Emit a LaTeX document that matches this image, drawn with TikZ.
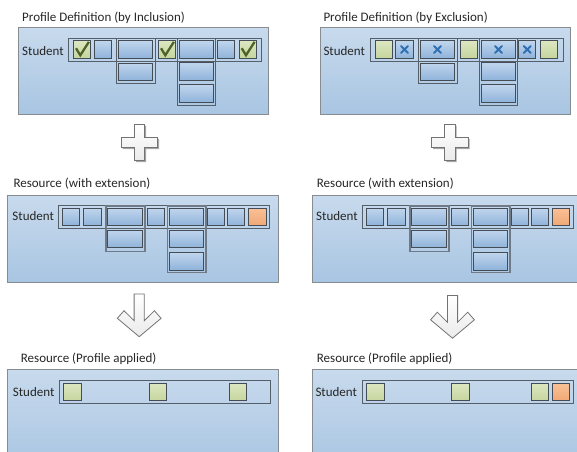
\documentclass[tikz,border=0pt]{standalone}
\usepackage{fontspec}
\setmainfont{Carlito}
\definecolor{paneltop}{RGB}{200,218,237}
\definecolor{panelbot}{RGB}{168,197,226}
\definecolor{panelline}{RGB}{135,140,145}
\definecolor{celltop}{RGB}{192,213,237}
\definecolor{cellbot}{RGB}{143,179,218}
\definecolor{celline}{RGB}{68,76,86}
\definecolor{rowline}{RGB}{85,95,105}
\definecolor{ylwtop}{RGB}{220,230,192}
\definecolor{ylwbot}{RGB}{197,213,158}
\definecolor{orgtop}{RGB}{249,192,150}
\definecolor{orgbot}{RGB}{240,168,118}
\definecolor{chkcol}{RGB}{79,98,40}
\definecolor{xcol}{RGB}{46,112,180}
\definecolor{grpgray}{RGB}{112,122,134}
\tikzset{
  panel/.style={draw=panelline, line width=0.8pt, top color=paneltop, bottom color=panelbot, anchor=north west, inner sep=0},
  rowbox/.style={draw=rowline, line width=0.8pt, anchor=north west, inner sep=0},
  grpthin/.style={draw=rowline, line width=0.8pt, anchor=north west, inner sep=0},
  grpthick/.style={draw=grpgray, line width=1.6pt, anchor=north west, inner sep=0},
  cellbase/.style={draw=celline, line width=0.9pt, minimum width=17.4pt, minimum height=17.4pt, inner sep=0, anchor=center},
  bl/.style={cellbase, top color=celltop, bottom color=cellbot},
  wide/.style={bl, minimum width=34.4pt},
  yl/.style={cellbase, top color=ylwtop, bottom color=ylwbot},
  og/.style={cellbase, top color=orgtop, bottom color=orgbot},
  lbl/.style={anchor=base west, inner sep=0, text=black!85},
  chk/.style={draw=chkcol, line width=2.3pt, line join=miter},
  xm/.style={draw=xcol, line width=2pt, line cap=round},
  shape3d/.style={draw=black!55, line width=0.8pt, top color=white, bottom color=black!8},
  shadow3d/.style={fill=black!35},
}
\newcommand\chkmark[1]{\draw[chk] ([shift={(-6,-1.2)}]#1.center) -- ++(4.3,7) -- ++(8.6,-13.4);}
\newcommand\xmark[1]{\draw[xm] ([shift={(-3.4,-3.4)}]#1.center) -- ++(6.8,6.8) ([shift={(3.4,-3.4)}]#1.center) -- ++(-6.8,6.8);}
\begin{document}
\begin{tikzpicture}[x=1pt,y=-1pt,font=\fontsize{13}{15}\selectfont]
\useasboundingbox (0,0) rectangle (577,451);
% ================= TOP LEFT =================
\node[panel, minimum width=250.3pt, minimum height=87pt] (pA) at (17.7,27.3) {};
\node[lbl] (tA) at (22,21.7) {Profile Definition (by Inclusion)};
\node[lbl] (sA) at (22,55) {Student};
\node[rowbox, minimum width=192.2pt, minimum height=23pt] (rA) at (68.3,37.7) {};
\node[grpthin, minimum width=38.7pt, minimum height=45.6pt] (gA1) at (116,37.7) {};
\node[grpthin, minimum width=38pt, minimum height=67.6pt] (gA2) at (177.3,37.7) {};
\node[yl] (a1) at (82,49.45) {};
\node[bl] (a2) at (103,49.45) {};
\node[wide] (a3) at (135.5,49.45) {};
\node[wide] (a3b) at (135.5,71.7) {};
\node[yl] (a4) at (167,49.45) {};
\node[wide] (a5) at (196.5,49.45) {};
\node[wide] (a5b) at (196.5,71.5) {};
\node[wide] (a5c) at (196.5,93.6) {};
\node[bl] (a6) at (226.2,49.45) {};
\node[yl] (a7) at (247.7,49.45) {};
\chkmark{a1}\chkmark{a4}\chkmark{a7}
% ================= TOP RIGHT =================
\node[panel, minimum width=250.3pt, minimum height=87pt] (pB) at (319.7,27.3) {};
\node[lbl] (tB) at (323.3,21.7) {Profile Definition (by Exclusion)};
\node[lbl] (sB) at (323.3,55) {Student};
\node[rowbox, minimum width=192.2pt, minimum height=23pt] (rB) at (370.3,37.7) {};
\node[grpthin, minimum width=38.7pt, minimum height=45.6pt] (gB1) at (418,37.7) {};
\node[grpthin, minimum width=38pt, minimum height=67.6pt] (gB2) at (479.3,37.7) {};
\node[yl] (b1) at (384,49.45) {};
\node[bl] (b2) at (404.5,49.45) {};
\node[wide] (b3) at (437.5,49.45) {};
\node[wide] (b3b) at (437.5,71.7) {};
\node[yl] (b4) at (468.8,49.45) {};
\node[wide] (b5) at (498.5,49.45) {};
\node[wide] (b5b) at (498.5,71.5) {};
\node[wide] (b5c) at (498.5,93.6) {};
\node[bl] (b6) at (527.2,49.45) {};
\node[yl] (b7) at (549,49.45) {};
\xmark{b2}\xmark{b3}\xmark{b5}\xmark{b6}
% ================= PLUS SIGNS =================
\foreach \cx/\nm in {139.3/plusA, 449.8/plusB}{
  \fill[shadow3d] ([shift={(1.6,1.6)}]\cx,142.3) ++(-5.1,-18.2) -- ++(10.2,0) -- ++(0,13.1) -- ++(13.1,0) -- ++(0,10.2) -- ++(-13.1,0) -- ++(0,13.1) -- ++(-10.2,0) -- ++(0,-13.1) -- ++(-13.1,0) -- ++(0,-10.2) -- ++(13.1,0) -- cycle;
  \coordinate (\nm) at (\cx,142.3);
  \path[shape3d] (\nm) ++(-5.1,-18.2) -- ++(10.2,0) -- ++(0,13.1) -- ++(13.1,0) -- ++(0,10.2) -- ++(-13.1,0) -- ++(0,13.1) -- ++(-10.2,0) -- ++(0,-13.1) -- ++(-13.1,0) -- ++(0,-10.2) -- ++(13.1,0) -- cycle;
}
% ================= MIDDLE LEFT =================
\node[panel, minimum width=270.4pt, minimum height=86.7pt] (pC) at (7.3,195) {};
\node[lbl] (tC) at (13.3,187.5) {Resource (with extension)};
\node[lbl] (sC) at (12.3,220.5) {Student};
\node[rowbox, minimum width=210.4pt, minimum height=22.2pt] (rC) at (58.3,205.3) {};
\node[grpthick, minimum width=39pt, minimum height=45.4pt] (gC1) at (105.3,205.3) {};
\node[grpthick, minimum width=38.8pt, minimum height=66.4pt] (gC2) at (166.5,205.3) {};
\node[bl] (c1) at (71,216.85) {};
\node[bl] (c2) at (92.3,216.85) {};
\node[wide] (c3) at (125,216.85) {};
\node[wide] (c3b) at (125,238.85) {};
\node[bl] (c4) at (156,216.85) {};
\node[wide] (c5) at (186.2,216.85) {};
\node[wide] (c5b) at (186.2,238.85) {};
\node[wide] (c5c) at (186.2,261.3) {};
\node[bl] (c6) at (215.8,216.85) {};
\node[bl] (c7) at (236,216.85) {};
\node[og] (c8) at (257.5,216.85) {};
% ================= MIDDLE RIGHT =================
\node[panel, minimum width=270.4pt, minimum height=86.7pt] (pD) at (311.7,195) {};
\node[lbl] (tD) at (316.7,187.5) {Resource (with extension)};
\node[lbl] (sD) at (316,220.5) {Student};
\node[rowbox, minimum width=210.4pt, minimum height=22.2pt] (rD) at (362.3,205.3) {};
\node[grpthick, minimum width=39pt, minimum height=45.4pt] (gD1) at (409.3,205.3) {};
\node[grpthick, minimum width=38.8pt, minimum height=66.4pt] (gD2) at (470.5,205.3) {};
\node[bl] (d1) at (375,216.85) {};
\node[bl] (d2) at (396.3,216.85) {};
\node[wide] (d3) at (429,216.85) {};
\node[wide] (d3b) at (429,238.85) {};
\node[bl] (d4) at (460,216.85) {};
\node[wide] (d5) at (490.2,216.85) {};
\node[wide] (d5b) at (490.2,238.85) {};
\node[wide] (d5c) at (490.2,261.3) {};
\node[bl] (d6) at (519.8,216.85) {};
\node[bl] (d7) at (540,216.85) {};
\node[og] (d8) at (561,216.85) {};
% ================= DOWN ARROWS =================
\foreach \cx/\tp/\nm in {139.2/294/arrA, 452.5/295.5/arrB}{
  \coordinate (\nm) at (\cx,\tp);
  \path[shape3d] (\nm) ++(-5.1,0) -- ++(10.2,0) -- ++(0,26.7) -- ++(10.1,-10) -- ++(6.7,7.6) -- ++(-21.9,18.4) -- ++(-21.9,-18.4) -- ++(6.7,-7.6) -- ++(10.1,10) -- cycle;
}
% ================= BOTTOM LEFT =================
\node[panel, minimum width=271pt, minimum height=100pt] (pE) at (7.3,369.3) {};
\node[lbl] (tE) at (20.7,362) {Resource (Profile applied)};
\node[lbl] (sE) at (12.7,396.5) {Student};
\node[rowbox, minimum width=210.7pt, minimum height=23pt] (rE) at (59.3,380.3) {};
\node[yl] (e1) at (72.3,392.2) {};
\node[yl] (e2) at (157.8,392.2) {};
\node[yl] (e3) at (237.8,392.2) {};
% ================= BOTTOM RIGHT =================
\node[panel, minimum width=271pt, minimum height=100pt] (pF) at (311.7,369.3) {};
\node[lbl] (tF) at (316.7,362) {Resource (Profile applied)};
\node[lbl] (sF) at (315.3,396.5) {Student};
\node[rowbox, minimum width=210.4pt, minimum height=23pt] (rF) at (362.3,380.3) {};
\node[yl] (f1) at (375.3,392.2) {};
\node[yl] (f2) at (460.3,392.2) {};
\node[yl] (f3) at (539.7,392.2) {};
\node[og] (f4) at (560.7,392.2) {};
\end{tikzpicture}
\end{document}
